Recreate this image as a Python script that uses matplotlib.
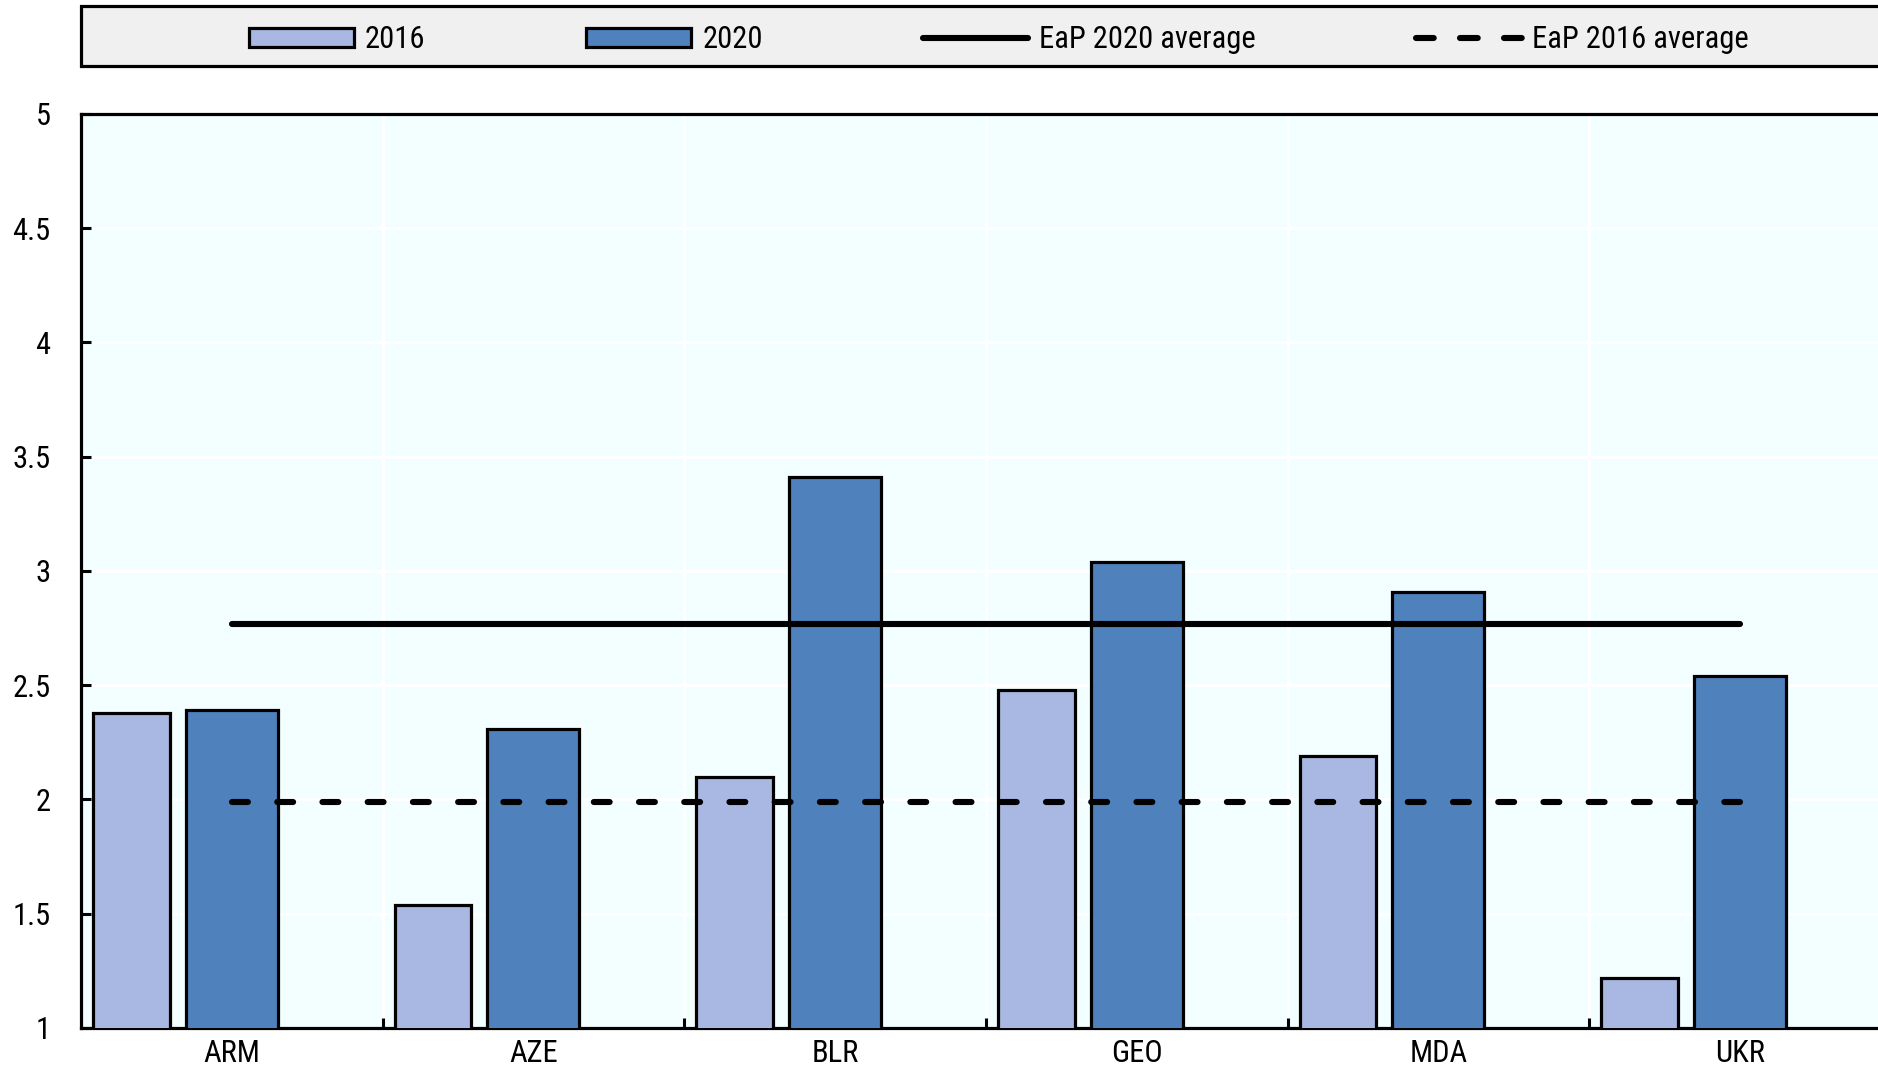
import matplotlib.pyplot as plt
import numpy as np
from matplotlib.patches import Rectangle
from matplotlib.lines import Line2D

# Data
countries = ["ARM", "AZE", "BLR", "GEO", "MDA", "UKR"]
v2016 = [2.38, 1.54, 2.10, 2.48, 2.19, 1.22]
v2020 = [2.39, 2.31, 3.41, 3.04, 2.91, 2.54]
avg2016 = 1.99
avg2020 = 2.77
yticks = [1, 1.5, 2, 2.5, 3, 3.5, 4, 4.5, 5]
ylabels = ["1", "1.5", "2", "2.5", "3", "3.5", "4", "4.5", "5"]

plt.rcParams["font.family"] = ["Roboto Condensed", "Liberation Sans", "DejaVu Sans"]
FS = 22
LW = 4.4

c16 = "#A8B8E2"
c20 = "#4F81BD"

fig = plt.figure(figsize=(18.78, 10.70), dpi=100)
ax = fig.add_axes([0.0431, 0.0393, 0.9638, 0.8542])
ax.set_facecolor("#F2FEFF")

x = np.arange(len(countries))
ax.bar(x - 0.333, v2016, width=0.255, color=c16, edgecolor="black", linewidth=2.3, zorder=3)
ax.bar(x, v2020, width=0.305, color=c20, edgecolor="black", linewidth=2.3, zorder=3)

ax.plot(x, [avg2020] * len(x), color="black", lw=LW, solid_capstyle="round", zorder=4)
ax.plot(x, [avg2016] * len(x), color="black", lw=LW, dashes=(2.6, 4.8),
        dash_capstyle="round", zorder=4)

ax.set_xlim(-0.5, len(countries) - 0.5)
ax.set_ylim(1, 5)
ax.set_yticks(yticks)
ax.set_yticklabels(ylabels, fontsize=FS)
ax.set_xticks(x)
ax.set_xticklabels(countries, fontsize=FS)
ax.set_xticks(np.arange(len(countries)) + 0.5, minor=True)
ax.tick_params(axis="x", which="major", length=0, pad=8)
ax.tick_params(axis="x", which="minor", direction="in", length=7, width=2.2)
ax.tick_params(axis="y", direction="in", length=7, width=2.2, pad=22)

ax.grid(axis="y", color="white", lw=2.2, zorder=0)
ax.grid(axis="x", which="minor", color="white", lw=2.2, zorder=0)
ax.set_axisbelow(True)

for s in ["left", "bottom", "top"]:
    ax.spines[s].set_linewidth(2.3)
    ax.spines[s].set_color("black")
ax.spines["right"].set_visible(False)

# legend box
fig.patches.append(Rectangle((81 / 1878, 1 - 66 / 1070), 1.0, 60 / 1070,
                             transform=fig.transFigure, facecolor="#F0F0F0",
                             edgecolor="black", lw=2.3, zorder=0))
handles = [
    Rectangle((0, 0), 1, 1, facecolor=c16, edgecolor="black", lw=2.3),
    Rectangle((0, 0), 1, 1, facecolor=c20, edgecolor="black", lw=2.3),
    Line2D([], [], color="black", lw=LW, solid_capstyle="round"),
    Line2D([], [], color="black", lw=LW, dashes=(2.9, 4.3), dash_capstyle="round"),
]
fig.legend(handles, ["2016", "2020", "EaP 2020 average", "EaP 2016 average"],
           loc="center left", bbox_to_anchor=(249 / 1878, 1 - 40 / 1070), ncol=4,
           frameon=False, fontsize=FS, handlelength=3.45, handleheight=0.55,
           handletextpad=0.35, columnspacing=5.25, borderaxespad=0, borderpad=0)

fig.savefig("out.png", dpi=100)
